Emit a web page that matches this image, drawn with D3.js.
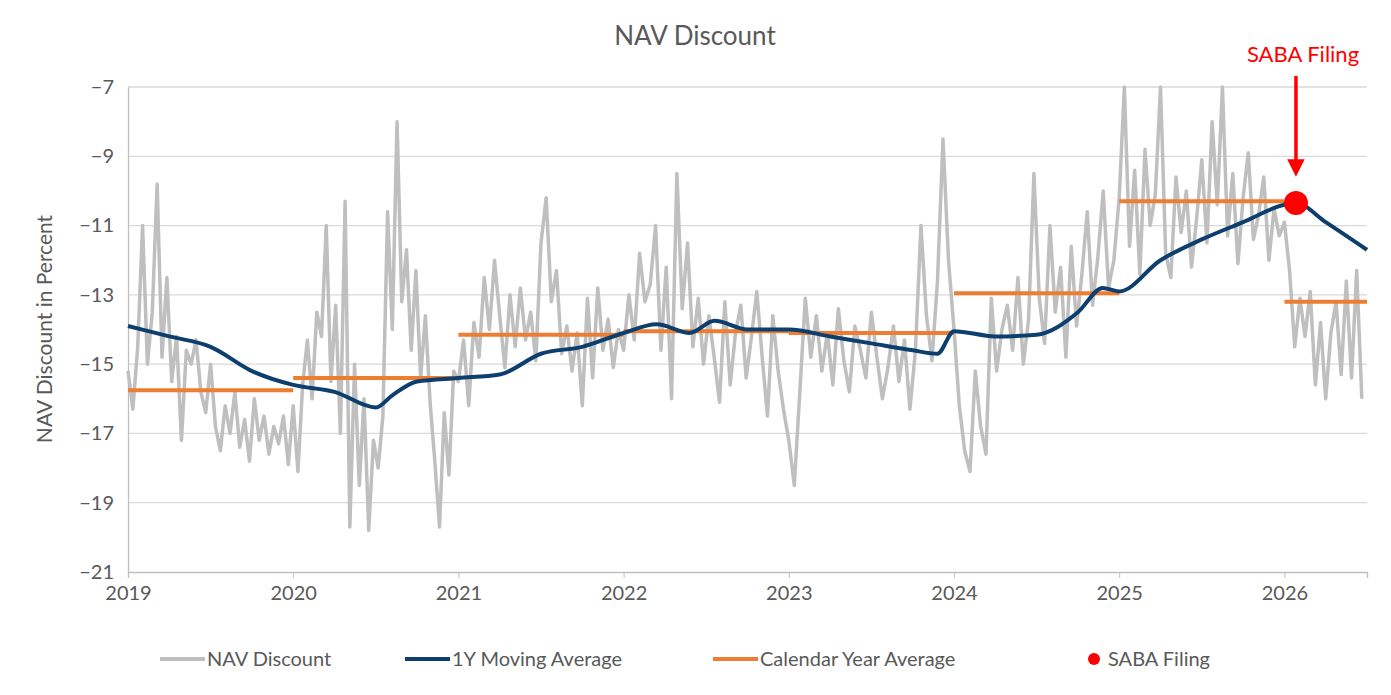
<!DOCTYPE html>
<html><head><meta charset="utf-8">
<script src="https://cdn.jsdelivr.net/npm/d3@7"></script>
<style>body{margin:0;background:#fff}text{font-family:Lato,"Open Sans",sans-serif}</style>
</head><body><svg class="svg" width="1391" height="695"></svg>
<script>
// NAV discount readings, spread evenly across each calendar year
const nav2019 = [-15.2,-16.3,-14.5,-11,-15,-13.5,-9.8,-14.8,-12.5,-15.5,-14.2,-17.2,-14.6,-15,-14.3,-15.8,-16.4,-15,-16.8,-17.5,-16.2,-17,-15.8,-17.4,-16.6,-17.8,-16,-17.2,-16.5,-17.6,-16.8,-17.3,-16.5,-17.9];
const nav2020 = [-16.2,-18.1,-15.6,-14.3,-16,-13.5,-14.2,-11,-15.5,-13.3,-17,-10.3,-19.7,-15,-18.5,-16,-19.8,-17.2,-18,-16.5,-10.6,-14,-8,-13.2,-11.7,-14.6,-12.3,-15.4,-13.6,-16.1,-17.8,-19.7,-16.4,-18.2,-15.2];
const nav2021 = [-15.5,-14.3,-16.2,-13.8,-14.8,-12.5,-14,-12,-13.6,-15.1,-13,-14.5,-12.8,-14.3,-13.5,-14.9,-11.5,-10.2,-13.2,-12.3,-14.7,-13.9,-15.2,-14.1,-16.2,-13.1,-15.4,-12.8,-14.6,-13.7,-15.1,-14];
const nav2022 = [-14.6,-13,-14.3,-11.8,-13.2,-12.7,-11,-14.6,-12.2,-16,-9.5,-13.4,-11.5,-14.5,-13.1,-15,-13.6,-14.8,-16.1,-13.2,-15.6,-14.1,-13.3,-15.4,-14.2,-12.9,-14.8,-16.5,-13.6,-15.2,-16.3];
const nav2023 = [-17.2,-18.5,-15.8,-13.1,-14.8,-13.6,-15.2,-14.1,-15.6,-13.4,-14.9,-15.8,-13.9,-14.6,-15.4,-13.5,-14.8,-16,-15.1,-13.9,-15.5,-14.3,-16.3,-14.6,-11,-13.6,-14.9,-12.6,-8.5,-12];
const nav2024 = [-14,-16.2,-17.5,-18.1,-15.2,-16.8,-17.6,-13.1,-15.2,-14,-13.3,-14.6,-12.5,-15,-13.7,-9.5,-13.1,-14.4,-11,-13.5,-12.2,-14.8,-11.6,-13.9,-12.4,-10.6,-13.3,-11.9,-10,-12.8,-12];
const nav2025 = [-10.2,-7,-11.6,-9.4,-12.4,-8.8,-11,-10.1,-7,-11.8,-12.5,-9.6,-11.2,-10,-12.2,-10.8,-9.1,-11.5,-8,-10.4,-7,-11.3,-9.5,-12.1,-10.2,-8.9,-11.4,-10.7,-9.6,-12,-10.5,-11.3];
const nav2026 = [-10.9,-12.3,-14.5,-13.1,-14.2,-12.9,-15.6,-13.8,-16,-14.1,-13.2,-15.3,-12.6,-15.4,-12.3,-16];
const navYears = [nav2019, nav2020, nav2021, nav2022, nav2023, nav2024, nav2025, nav2026];

const maTimes = [2019,2019.25,2019.5,2019.75,2020,2020.25,2020.5,2020.6,2020.75,2021,2021.25,2021.5,2021.75,2022,2022.2,2022.4,2022.55,2022.75,2023,2023.25,2023.5,2023.75,2023.9,2024,2024.25,2024.5,2024.75,2024.9,2025,2025.25,2025.5,2025.75,2026,2026.07,2026.25,2026.5];
const maValues = [-13.9,-14.2,-14.5,-15.2,-15.6,-15.8,-16.25,-15.9,-15.5,-15.4,-15.3,-14.7,-14.5,-14.1,-13.85,-14.1,-13.75,-14,-14,-14.2,-14.4,-14.6,-14.7,-14.05,-14.2,-14.15,-13.5,-12.8,-12.9,-12,-11.4,-10.9,-10.4,-10.35,-10.9,-11.7];

const yearStarts = [2019,2020,2021,2022,2023,2024,2025,2026];
const yearEnds = [2020,2021,2022,2023,2024,2025,2026,2026.5];
const yearAverages = [-15.75,-15.4,-14.15,-14.05,-14.1,-12.95,-10.3,-13.2];

const filing = {t: 2026.07, v: -10.35};
const yTicks = [-7,-9,-11,-13,-15,-17,-19,-21];
const xTicks = [2019,2020,2021,2022,2023,2024,2025,2026];

const grayC = '#bfbfbf', navyC = '#0d3f6e', orangeC = '#ed7d31', textC = '#595959';
const svg = d3.select('.svg');
const x = d3.scaleLinear().domain([2019, 2026.5]).range([128, 1367]);
const y = d3.scaleLinear().domain([-21, -7]).range([572, 87]);

const navPts = [];
navYears.forEach((arr, i) => {
    const span = yearEnds[i] - yearStarts[i];
    arr.forEach((v, j) => navPts.push({t: yearStarts[i] + span * j / arr.length, v}));
});

svg.append('g').selectAll('line').data(yTicks.filter(d => d !== -21)).join('line')
    .attr('x1', 128).attr('x2', 1367).attr('y1', d => y(d)).attr('y2', d => y(d))
    .attr('stroke', '#d9d9d9').attr('stroke-width', 1.3);

svg.append('g').attr('transform', 'translate(0,572)')
    .call(d3.axisBottom(x).tickValues(xTicks).tickFormat(d3.format('d')).tickSize(6).tickPadding(8))
    .call(g => g.select('.domain').attr('stroke', '#bfbfbf').attr('stroke-width', 1.3))
    .call(g => g.selectAll('line').attr('stroke', '#bfbfbf'))
    .call(g => g.selectAll('text').attr('fill', textC).attr('font-size', 20));

svg.append('g').attr('transform', 'translate(128,0)')
    .call(d3.axisLeft(y).tickValues(yTicks).tickSize(0).tickPadding(14))
    .call(g => g.select('.domain').attr('stroke', '#bfbfbf').attr('stroke-width', 1.3))
    .call(g => g.selectAll('text').attr('fill', textC).attr('font-size', 20));

const line = d3.line().x(d => x(d.t)).y(d => y(d.v));
svg.append('path').datum(navPts).attr('d', line).attr('fill', 'none')
    .attr('stroke', grayC).attr('stroke-width', 3.5).attr('stroke-linejoin', 'round');

svg.selectAll('.cya').data(yearAverages).join('line').classed('cya', true)
    .attr('x1', (d, i) => x(yearStarts[i])).attr('x2', (d, i) => x(yearEnds[i]))
    .attr('y1', d => y(d)).attr('y2', d => y(d))
    .attr('stroke', orangeC).attr('stroke-width', 4);

svg.append('path').datum(maTimes.map((t, i) => ({t, v: maValues[i]})))
    .attr('d', d3.line().curve(d3.curveMonotoneX).x(d => x(d.t)).y(d => y(d.v)))
    .attr('fill', 'none').attr('stroke', navyC).attr('stroke-width', 4);

svg.append('circle').attr('cx', x(filing.t)).attr('cy', y(filing.v)).attr('r', 12).attr('fill', '#ff0000');

// annotation arrow
svg.append('defs').append('marker').attr('id', 'ah').attr('viewBox', '0 0 10 10')
    .attr('refX', 5).attr('refY', 5).attr('markerWidth', 5).attr('markerHeight', 5).attr('orient', 'auto')
    .append('path').attr('d', 'M0,0L10,5L0,10z').attr('fill', '#ff0000');
svg.append('line').attr('x1', x(filing.t)).attr('x2', x(filing.t)).attr('y1', 76).attr('y2', 168)
    .attr('stroke', '#ff0000').attr('stroke-width', 3.5).attr('marker-end', 'url(#ah)');
svg.append('text').attr('x', 1303).attr('y', 62).attr('text-anchor', 'middle')
    .attr('fill', '#ff0000').attr('font-size', 22).text('SABA Filing');

svg.append('text').attr('x', 695).attr('y', 45).attr('text-anchor', 'middle')
    .attr('fill', textC).attr('font-size', 26).text('NAV Discount');
svg.append('text').attr('transform', 'translate(52,329) rotate(-90)').attr('text-anchor', 'middle')
    .attr('fill', textC).attr('font-size', 21).text('NAV Discount in Percent');

const legend = [
    {name: 'NAV Discount', color: grayC, x: 160},
    {name: '1Y Moving Average', color: navyC, x: 405},
    {name: 'Calendar Year Average', color: orangeC, x: 713}
];
const lg = svg.selectAll('.lg').data(legend).join('g').classed('lg', true);
lg.append('line').attr('x1', d => d.x).attr('x2', d => d.x + 45).attr('y1', 659).attr('y2', 659)
    .attr('stroke', d => d.color).attr('stroke-width', 4);
lg.append('text').attr('x', d => d.x + 47).attr('y', 666).attr('fill', textC).attr('font-size', 20).text(d => d.name);
svg.append('circle').attr('cx', 1094).attr('cy', 659).attr('r', 6).attr('fill', '#ff0000');
svg.append('text').attr('x', 1108).attr('y', 666).attr('fill', textC).attr('font-size', 20).text('SABA Filing');
</script></body></html>
